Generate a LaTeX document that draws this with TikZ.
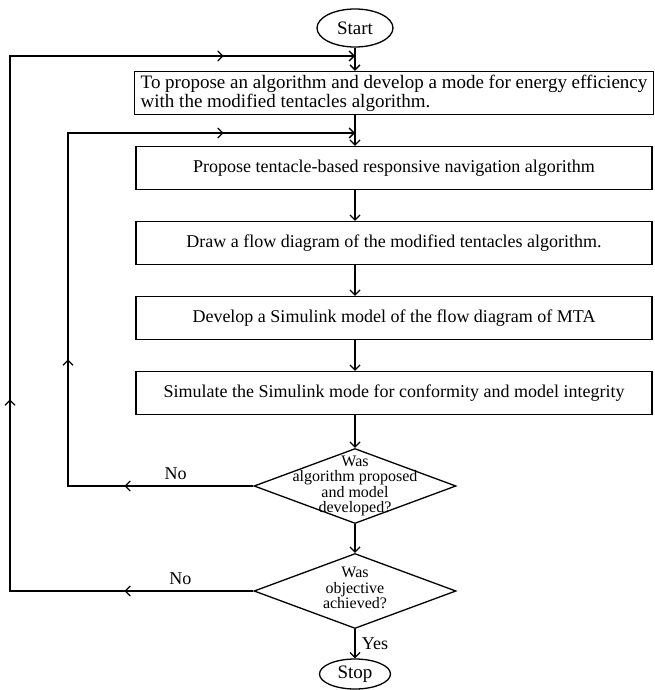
\documentclass[tikz,border=0pt]{standalone}
\usepackage{fontspec}
\setmainfont{Liberation Serif}
\usetikzlibrary{shapes.geometric,arrows.meta,decorations.markings}

\begin{document}
\begin{tikzpicture}[x=1pt,y=-1pt,line width=1.3pt,>={Straight Barb[length=5pt,width=10pt]},
  term/.style = {draw, ellipse, inner sep=0pt, font=\fontsize{19}{20}\selectfont},
  main/.style = {draw, rectangle, minimum width=516pt, minimum height=43pt, font=\fontsize{18}{19}\selectfont},
  dec/.style = {draw, diamond, minimum width=202pt, minimum height=75pt, inner sep=0pt},
  dectxt/.style = {align=center, inner sep=0pt, font=\fontsize{16}{15.5}\selectfont},
  lab/.style = {font=\fontsize{18}{19}\selectfont},
  back/.style n args = {3}{postaction={decorate}, decoration={markings,
      mark=at position #1 with {\arrow{>}}, mark=at position #2 with {\arrow{>}},
      mark=at position #3 with {\arrow{>}}}},
  node distance={75pt}]
        \useasboundingbox (0,0) rectangle (654,690);
        \node[term, minimum width=76pt, minimum height=38pt] (1) at (355,28) {Start};
        \node[main, align=left, inner xsep=6pt, minimum height=42pt, font=\fontsize{19}{19}\selectfont, node distance=65pt, below of=1, xshift=39pt] (2)
            {To propose an algorithm and develop a mode for energy efficiency\\with the modified tentacles algorithm.};
        \node[main] (3) [below of=2] {Propose tentacle-based responsive navigation algorithm};
        \node[main] (4) [below of=3] {Draw a flow diagram of the modified tentacles algorithm.};
        \node[main] (5) [below of=4] {Develop a Simulink model of the flow diagram of MTA};
        \node[main] (6) [below of=5] {Simulate the Simulink mode for conformity and model integrity};
        \node[dec, node distance=93pt, below of=6, xshift=-39pt] (7) {};
        \node[dectxt] (7a) at (7) {Was\\algorithm proposed\\and model\\developed?};
        \node[dec, node distance=105pt, below of=7] (8) {};
        \node[dectxt] (8a) at ([yshift=3pt]8) {Was\\objective\\achieved?};
        \node[term, minimum width=71pt, minimum height=30pt, node distance=83pt, below of=8] (9) {Stop};
        \coordinate (a) at (10,56);
        \coordinate (b) at (68,133);
        % main flow
        \draw[->] (1) -- (2.north -| 1);
        \draw[->] (2.south -| 1) -- (3.north -| 1);
        \draw[->] (3.south -| 1) -- (4.north -| 1);
        \draw[->] (4.south -| 1) -- (5.north -| 1);
        \draw[->] (5.south -| 1) -- (6.north -| 1);
        \draw[->] (6.south -| 1) -- (7);
        \draw[->] (7) -- (8);
        \draw[->] (8) -- node[lab, right, xshift=3pt] {Yes} (9);
        % feedback
        \draw[->, back={129pt}{312pt}{694pt}] (7.west) -| node[lab, above, pos=0.21, yshift=2pt] {No} (b) -- (b -| 1);
        \draw[->, back={129pt}{435pt}{992pt}] (8.west) -| node[lab, above, pos=0.15, yshift=2pt] {No} (a) -- (a -| 1);
\end{tikzpicture}
\end{document}
